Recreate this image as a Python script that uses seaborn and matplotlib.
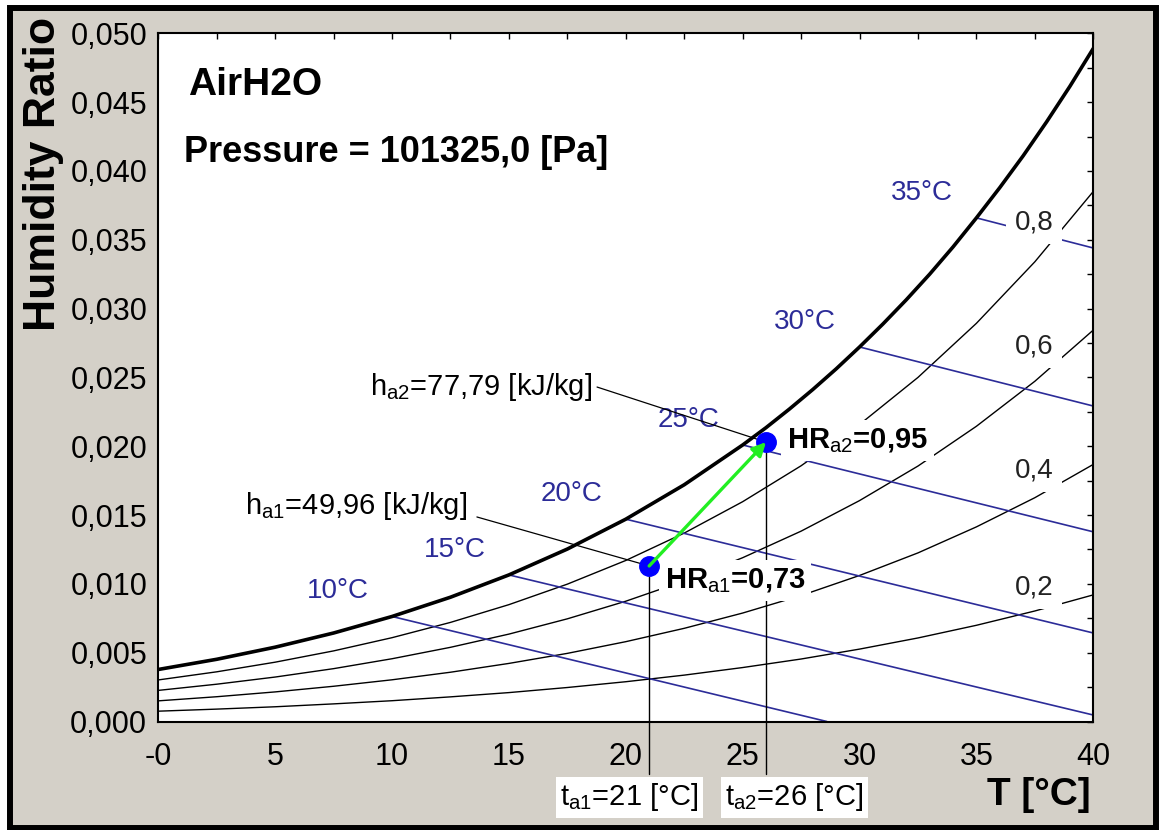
import numpy as np
import pandas as pd
import seaborn as sns
import matplotlib.pyplot as plt
from matplotlib.patches import Rectangle
from matplotlib.ticker import FixedLocator, MultipleLocator

# ---------------- data ----------------
# dry bulb temperature along the RH curves [°C]
temp = [0, 2.5, 5, 7.5, 10, 12.5, 15, 17.5, 20, 22.5, 25, 27.5, 30, 32.5, 35, 37.5, 40]
# saturation curve read a bit finer where it bends most
temp_sat = [0, 2.5, 5, 7.5, 10, 12.5, 15, 17.5, 20, 22.5, 25, 26, 27, 28, 29, 30,
            31, 32, 33, 34, 35, 36, 37, 38, 39, 40]

# humidity ratio [kg/kg]
w_sat = [0.00378, 0.00452, 0.00540, 0.00643, 0.00763, 0.00903, 0.01065, 0.01253, 0.01470,
         0.01720, 0.02009, 0.02135, 0.02270, 0.02412, 0.02562, 0.02721, 0.02888, 0.03064,
         0.03250, 0.03448, 0.03659, 0.03879, 0.04110, 0.04356, 0.04615, 0.04890]
w_rh20 = [0.00075, 0.00090, 0.00107, 0.00128, 0.00151, 0.00179, 0.00210, 0.00247, 0.00289,
          0.00337, 0.00392, 0.00454, 0.00526, 0.00607, 0.00699, 0.00803, 0.00920]
w_rh40 = [0.00150, 0.00180, 0.00215, 0.00256, 0.00303, 0.00358, 0.00422, 0.00495, 0.00580,
          0.00677, 0.00788, 0.00915, 0.01061, 0.01225, 0.01414, 0.01626, 0.01868]
w_rh60 = [0.00226, 0.00271, 0.00323, 0.00384, 0.00456, 0.00539, 0.00635, 0.00746, 0.00874,
          0.01021, 0.01190, 0.01383, 0.01605, 0.01856, 0.02145, 0.02472, 0.02844]
w_rh80 = [0.00302, 0.00361, 0.00431, 0.00513, 0.00609, 0.00720, 0.00849, 0.00998, 0.01170,
          0.01369, 0.01597, 0.01858, 0.02158, 0.02500, 0.02893, 0.03340, 0.03851]
rh_names = ["0,2", "0,4", "0,6", "0,8"]

# wet bulb lines: start on saturation, end on the frame
wb_names = ["10°C", "15°C", "20°C", "25°C", "30°C", "35°C"]
wb_t0 = [10, 15, 20, 25, 30, 35]
wb_w0 = [0.00763, 0.01065, 0.01470, 0.02009, 0.02721, 0.03659]
wb_t1 = [28.6, 40, 40, 40, 40, 40]
wb_w1 = [0.0, 0.00047, 0.00643, 0.01378, 0.02292, 0.03440]

# the two air states
state_t = [21, 26]
state_w = [0.0113, 0.0203]
state_hr = ["0,73", "0,95"]
state_h = ["49,96", "77,79"]

xtick_vals = [0, 5, 10, 15, 20, 25, 30, 35, 40]
xtick_labels = ["-0", "5", "10", "15", "20", "25", "30", "35", "40"]
ytick_vals = [0.000, 0.005, 0.010, 0.015, 0.020, 0.025, 0.030, 0.035, 0.040, 0.045, 0.050]
ytick_labels = ["0,000", "0,005", "0,010", "0,015", "0,020", "0,025",
                "0,030", "0,035", "0,040", "0,045", "0,050"]

# ---------------- style ----------------
sns.set_theme(style="white")
plt.rcParams['font.family'] = ['Liberation Sans', 'DejaVu Sans']
plt.rcParams['mathtext.fontset'] = 'custom'
plt.rcParams['mathtext.rm'] = 'Liberation Sans'
plt.rcParams['mathtext.bf'] = 'Liberation Sans:bold'
plt.rcParams['text.color'] = 'black'
plt.rcParams['axes.labelcolor'] = 'black'

NAVY = '#2c2c98'
GREY = '#d4d0c8'

W, H = 1159, 830
fig = plt.figure(figsize=(W / 100, H / 100), dpi=100)
fig.patch.set_facecolor('white')
fig.add_artist(Rectangle((10 / W, 2.5 / H), 1146 / W, 819.5 / H, transform=fig.transFigure,
                         facecolor=GREY, edgecolor='black', lw=4.3, zorder=-10))

ax = fig.add_axes([158.3 / W, (H - 721.5) / H, 935 / W, 688.2 / H])
ax.set_facecolor('white')

# relative humidity curves + saturation
rh_df = pd.DataFrame({
    'T': temp * 4,
    'W': w_rh20 + w_rh40 + w_rh60 + w_rh80,
    'rh': sum([[n] * len(temp) for n in rh_names], []),
})
sns.lineplot(data=rh_df, x='T', y='W', units='rh', estimator=None, color='black',
             lw=1.0, legend=False, ax=ax, zorder=2)
sns.lineplot(x=temp_sat, y=w_sat, color='black', lw=2.6, ax=ax, zorder=3)

# wet bulb lines
wb_df = pd.DataFrame({
    'T': wb_t0 + wb_t1,
    'W': wb_w0 + wb_w1,
    'line': wb_names + wb_names,
})
sns.lineplot(data=wb_df, x='T', y='W', units='line', estimator=None, color=NAVY,
             lw=1.2, legend=False, ax=ax, zorder=2)
for name, t0, w0 in zip(wb_names, wb_t0, wb_w0):
    ax.annotate(name, xy=(t0, w0), xytext=(-39, 18), textcoords='offset points',
                ha='center', va='center', color=NAVY, fontsize=20, zorder=4)

# RH labels sit in white boxes that cut the lines
rh_label_w = [0.00974, 0.01824, 0.02724, 0.03622]
for name, wl in zip(rh_names, rh_label_w):
    ax.text(37.47, wl, name, ha='center', va='center', fontsize=20, color='#222222',
            zorder=5, bbox=dict(boxstyle='square,pad=0.3', fc='white', ec='none'))

# states, drop lines, process arrow
for t, w in zip(state_t, state_w):
    ax.plot([t, t], [w, -0.00381], color='black', lw=1.0, clip_on=False, zorder=3)
ax.plot(state_t, state_w, 'o', color='#0000ff', ms=14, zorder=6)
ax.annotate('', xy=(state_t[1], state_w[1]), xytext=(state_t[0], state_w[0]),
            arrowprops=dict(arrowstyle='-|>', color='#22ee22', lw=2.4,
                            mutation_scale=20, shrinkA=0, shrinkB=0), zorder=7)

# enthalpy leaders
h_text_pos = [(13.2, 0.01508), (18.55, 0.02372)]
h_lead_pos = [(13.63, 0.01486), (18.77, 0.02430)]
for i in range(2):
    ax.text(*h_text_pos[i], 'h$_{\\rm a%d}$=%s [kJ/kg]' % (i + 1, state_h[i]),
            ha='right', va='baseline', fontsize=21, zorder=5)
    ax.plot([h_lead_pos[i][0], state_t[i]], [h_lead_pos[i][1], state_w[i]],
            color='black', lw=0.9, zorder=5)

# relative humidity of the states
hr_text_pos = [(21.67, 0.00970), (26.9, 0.01987)]
for i in range(2):
    ax.text(*hr_text_pos[i], 'HR$_{\\rm a%d}$=%s' % (i + 1, state_hr[i]),
            ha='left', va='baseline', fontsize=21, fontweight='bold', zorder=5,
            bbox=dict(boxstyle='square,pad=0.2', fc='white', ec='none'))

# temperature boxes under the axis
t_box_x = [20.16, 27.2]
for i in range(2):
    ax.text(t_box_x[i], -0.00552, 't$_{\\rm a%d}$=%d [°C]' % (i + 1, state_t[i]),
            ha='center', va='center', fontsize=21, clip_on=False, zorder=5,
            bbox=dict(boxstyle='square,pad=0.15', fc='white', ec='none'))

# titles
ax.text(0.0318, 0.9103, 'AirH2O', transform=ax.transAxes, fontsize=28,
        fontweight='bold', va='baseline')
ax.text(0.0275, 0.813, 'Pressure = 101325,0 [Pa]', transform=ax.transAxes,
        fontsize=26, fontweight='bold', va='baseline')

# axes
ax.set_xlim(0, 40)
ax.set_ylim(0, 0.05)
ax.xaxis.set_major_locator(FixedLocator(xtick_vals))
ax.set_xticklabels(xtick_labels)
ax.yaxis.set_major_locator(FixedLocator(ytick_vals))
ax.set_yticklabels(ytick_labels)
ax.xaxis.set_minor_locator(MultipleLocator(2.5))
ax.yaxis.set_minor_locator(MultipleLocator(0.0025))
ax.tick_params(which='both', direction='in', top=True, right=True, length=4.5,
               width=1.0, color='black')
ax.tick_params(axis='both', labelsize=22, labelcolor='black')
ax.tick_params(axis='x', pad=15)
ax.tick_params(axis='y', pad=8)
for s in ax.spines.values():
    s.set_color('black')
    s.set_linewidth(1.5)

ax.set_ylabel('Humidity Ratio', fontsize=32, fontweight='bold', va='center')
ax.yaxis.set_label_coords(-0.123, 0.796)
ax.set_xlabel('T [°C]', fontsize=28, fontweight='bold', va='baseline')
ax.xaxis.set_label_coords(0.9416, -0.1213)

fig.savefig('out.png', dpi=100)
